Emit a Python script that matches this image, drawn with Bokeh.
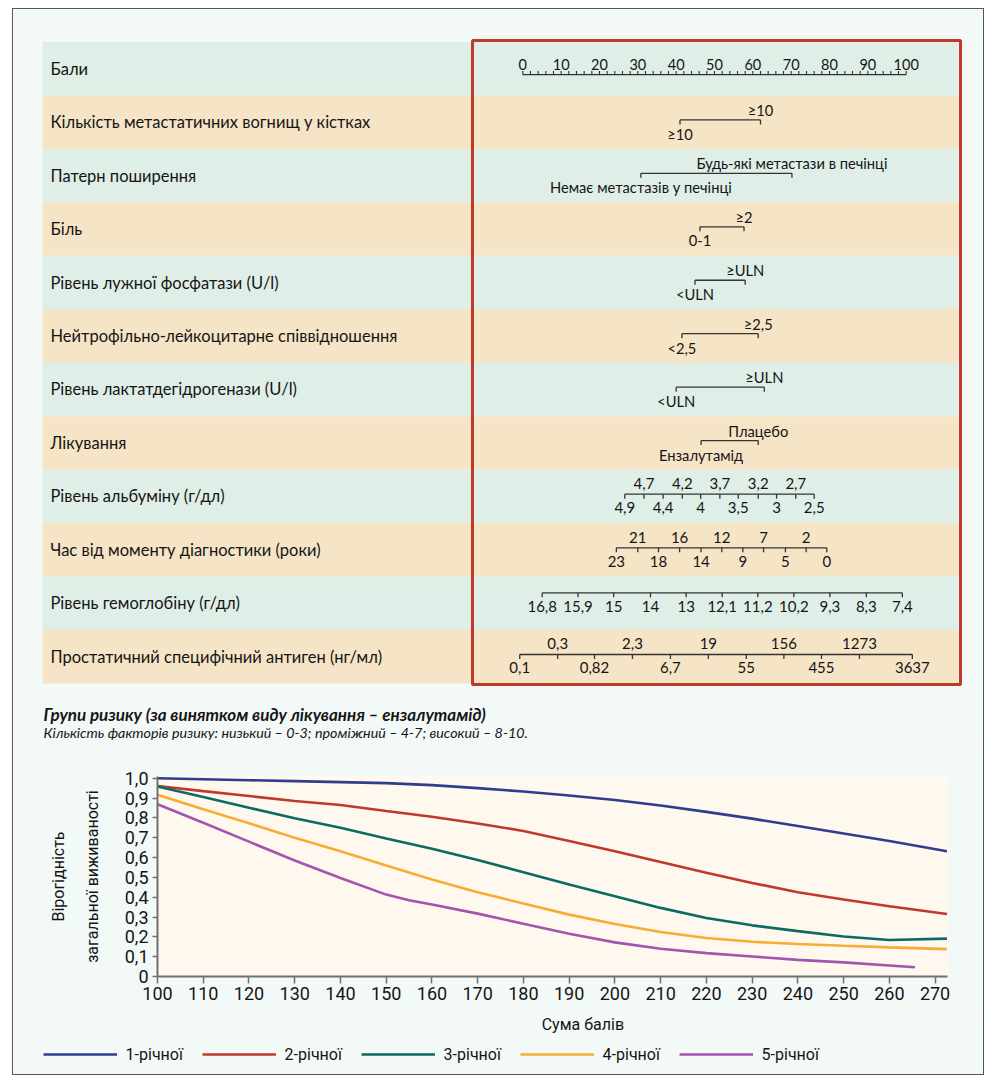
from bokeh.plotting import figure
from bokeh.models import Range1d, FixedTicker, Legend, LegendItem
from bokeh.embed import file_html
from bokeh.resources import INLINE
from bokeh.core.properties import value

# ---------------- data ----------------
row_labels = [
    "Бали",
    "Кількість метастатичних вогнищ у кістках",
    "Патерн поширення",
    "Біль",
    "Рівень лужної фосфатази (U/l)",
    "Нейтрофільно-лейкоцитарне співвідношення",
    "Рівень лактатдегідрогенази (U/l)",
    "Лікування",
    "Рівень альбуміну (г/дл)",
    "Час від моменту діагностики (роки)",
    "Рівень гемоглобіну (г/дл)",
    "Простатичний специфічний антиген (нг/мл)",
]
points_ticks = [0, 10, 20, 30, 40, 50, 60, 70, 80, 90, 100]
points_minor = list(range(0, 101, 2))

# binary factors: (low label, high label), (low points, high points)
bone_labels = ["≥10", "≥10"]
bone_pts = [41.0, 62.0]
pattern_labels = ["Немає метастазів у печінці", "Будь-які метастази в печінці"]
pattern_pts = [30.8, 70.2]
pain_labels = ["0-1", "≥2"]
pain_pts = [46.2, 57.7]
alp_labels = ["<ULN", "≥ULN"]
alp_pts = [44.9, 58.0]
nlr_labels = ["<2,5", "≥2,5"]
nlr_pts = [41.5, 61.4]
ldh_labels = ["<ULN", "≥ULN"]
ldh_pts = [40.0, 63.0]
treat_labels = ["Ензалутамід", "Плацебо"]
treat_pts = [46.5, 61.4]

albumin_labels = ["4,9", "4,7", "4,4", "4,2", "4", "3,7", "3,5", "3,2", "3", "2,7", "2,5"]
albumin_pts = [26.6, 31.6, 36.6, 41.6, 46.4, 51.4, 56.2, 61.4, 66.2, 71.2, 76.0]
time_labels = ["23", "21", "18", "16", "14", "12", "9", "7", "5", "2", "0"]
time_pts = [24.4, 30.0, 35.4, 40.9, 46.5, 51.9, 57.4, 62.8, 68.5, 73.9, 79.3]
hgb_labels = ["16,8", "15,9", "15", "14", "13", "12,1", "11,2", "10,2", "9,3", "8,3", "7,4"]
hgb_pts = [5.06, 14.4, 23.7, 33.3, 42.6, 52.0, 61.3, 70.7, 80.1, 89.6, 99.0]
psa_labels = ["0,1", "0,3", "0,82", "2,3", "6,7", "19", "55", "156", "455", "1273", "3637"]
psa_pts = [-0.8, 9.1, 18.7, 28.6, 38.5, 48.4, 58.3, 68.1, 77.9, 87.8, 101.6]

subtitle_1 = "Групи ризику (за винятком виду лікування – ензалутамід)"
subtitle_2 = "Кількість факторів ризику: низький – 0-3; проміжний – 4-7; високий – 8-10."

# survival curves
score = [100, 110, 120, 130, 140, 150, 160, 170, 180, 190, 200, 210, 220, 230, 240, 250, 260, 272.6]
surv_1 = [1.0, 0.995, 0.99, 0.985, 0.98, 0.975, 0.965, 0.95, 0.933, 0.913, 0.89, 0.862, 0.83, 0.796, 0.759, 0.721, 0.683, 0.632]
surv_2 = [0.961, 0.935, 0.91, 0.885, 0.865, 0.835, 0.806, 0.772, 0.734, 0.683, 0.632, 0.577, 0.523, 0.472, 0.425, 0.388, 0.354, 0.315]
surv_3 = [0.958, 0.905, 0.851, 0.798, 0.750, 0.696, 0.644, 0.587, 0.526, 0.464, 0.405, 0.346, 0.295, 0.258, 0.229, 0.202, 0.184, 0.191]
surv_4 = [0.916, 0.844, 0.773, 0.700, 0.632, 0.560, 0.489, 0.425, 0.368, 0.312, 0.265, 0.224, 0.194, 0.175, 0.164, 0.155, 0.147, 0.138]
score_5 = [100, 110, 120, 130, 140, 150, 155, 160, 170, 180, 190, 200, 210, 220, 230, 240, 250, 265.6]
surv_5 = [0.869, 0.775, 0.680, 0.585, 0.497, 0.413, 0.385, 0.363, 0.317, 0.266, 0.216, 0.172, 0.140, 0.118, 0.101, 0.084, 0.071, 0.047]
series_names = ["1-річної", "2-річної", "3-річної", "4-річної", "5-річної"]
x_ticks = list(range(100, 271, 10))
y_ticks = [0.0, 0.1, 0.2, 0.3, 0.4, 0.5, 0.6, 0.7, 0.8, 0.9, 1.0]
y_tick_labels = ["0", "0,1", "0,2", "0,3", "0,4", "0,5", "0,6", "0,7", "0,8", "0,9", "1,0"]
x_title = "Сума балів"
y_title = "Вірогідність\nзагальної виживаності"

# ---------------- styles ----------------
BG = "#f3f9f7"
MINT = "#dfeee7"
PEACH = "#f5e4c6"
RED_BOX = "#c0392b"
INK = "#151515"
LINE_INK = "#333333"
FONT = "Lato"
CHART_FONT = "Roboto"
COLORS = ["#2e3d8f", "#c0392b", "#0b6b63", "#f7ad33", "#a255ad"]
FRAME = "1px solid #555555"

OX, OY = 13, 9          # page position of the canvases
W = 972
PX0 = 522.3             # page pixel of 0 points
PXS = 3.834             # pixels per point


def X(px):
    return (px - PX0) / PXS


ROW_TOP0 = 41.5
ROW_H = 53.45
row_tops = [ROW_TOP0 + ROW_H * i for i in range(12)]
row_bottoms = [t + ROW_H for t in row_tops]
row_centers = [t + ROW_H / 2 for t in row_tops]
row_colors = [MINT if i % 2 == 0 else PEACH for i in range(12)]

# ---------------- nomogram figure ----------------
P1_BOTTOM = 748
p1 = figure(width=W, height=P1_BOTTOM - OY, x_range=Range1d(X(OX), X(OX + W)),
            y_range=Range1d(P1_BOTTOM, OY),
            toolbar_location=None, output_backend="svg", min_border=0)
p1.axis.visible = False
p1.grid.visible = False
p1.outline_line_color = None
p1.background_fill_color = BG
p1.border_fill_color = BG
p1.margin = (OY - 1, 0, 0, OX - 1)
p1.styles = {"border-top": FRAME, "border-left": FRAME, "border-right": FRAME}

p1.quad(left=X(42), right=X(958), top=row_tops, bottom=row_bottoms,
        fill_color=row_colors, line_color=None)
p1.text(x=X(50), y=row_centers, text=row_labels, text_baseline="middle",
        text_font=value(FONT), text_font_size="16.5px", text_color=INK)


def txt(xs, ys, labels, size="14px"):
    p1.text(x=xs, y=ys, text=labels, text_align="center", text_baseline="middle",
            text_font=value(FONT), text_font_size=size, text_color=INK)


# points axis
yl = row_centers[0] + 5.8
p1.segment(x0=[points_minor[0]], x1=[points_minor[-1]], y0=[yl], y1=[yl], line_color=LINE_INK, line_width=1.3)
p1.segment(x0=points_minor, x1=points_minor, y0=[yl] * len(points_minor), y1=[yl - 3.5] * len(points_minor),
           line_color=LINE_INK, line_width=1.1)
txt(points_ticks, [yl - 10.5] * len(points_ticks), [str(t) for t in points_ticks], "14.5px")


def scale_row(i, pts, labels, line_off, up_off, low_off, alternate=True):
    c = row_centers[i]
    ly = c + line_off
    p1.segment(x0=[pts[0]], x1=[pts[-1]], y0=[ly], y1=[ly], line_color=LINE_INK, line_width=1.3)
    p1.segment(x0=pts, x1=pts, y0=[ly] * len(pts), y1=[ly + 4.5] * len(pts), line_color=LINE_INK, line_width=1.3)
    if alternate:
        low_idx = list(range(0, len(pts), 2))
        up_idx = list(range(1, len(pts), 2))
    else:
        low_idx = list(range(len(pts)))
        up_idx = []
    size = "14.7px" if len(pts) == 2 else "15px"
    txt([pts[k] for k in low_idx], [c + low_off] * len(low_idx), [labels[k] for k in low_idx], size)
    if up_idx:
        txt([pts[k] for k in up_idx], [c + up_off] * len(up_idx), [labels[k] for k in up_idx], size)


binary = [(bone_pts, bone_labels), (pattern_pts, pattern_labels), (pain_pts, pain_labels),
          (alp_pts, alp_labels), (nlr_pts, nlr_labels), (ldh_pts, ldh_labels), (treat_pts, treat_labels)]
for k, (pts, labels) in enumerate(binary):
    scale_row(k + 1, pts, labels, -2.3, -12.3, 11.7)

scale_row(8, albumin_pts, albumin_labels, -2.2, -13.3, 11.6)
scale_row(9, time_pts, time_labels, -2.0, -12.0, 12.0)
scale_row(10, hgb_pts, hgb_labels, -10.4, 0, 3.2, alternate=False)
scale_row(11, psa_pts, psa_labels, -2.2, -12.8, 11.2)

# red frame around the scales
p1.quad(left=X(472), right=X(960), top=40, bottom=684, fill_color=None,
        line_color=RED_BOX, line_width=3)

# subtitles
p1.text(x=X(43), y=713.5, text=[subtitle_1], text_baseline="middle", text_font=value(FONT),
        text_font_size="17px", text_font_style="bold italic", text_color=INK)
p1.text(x=X(43), y=732, text=[subtitle_2], text_baseline="middle", text_font=value(FONT),
        text_font_size="14.3px", text_font_style="italic", text_color=INK)

# ---------------- survival chart ----------------
XS = 4.574                      # pixels per score unit
FRAME_L, FRAME_R = 157, 947     # page x of plot area
FRAME_T, FRAME_B = 777, 977     # page y of plot area
P2_BOTTOM = 1012
x_end = 100 + (FRAME_R - FRAME_L) / XS
p2 = figure(width=W, height=P2_BOTTOM - P1_BOTTOM, x_range=Range1d(100, x_end),
            y_range=Range1d(0, (FRAME_B - FRAME_T) / 198.3),
            toolbar_location=None, output_backend="svg",
            min_border_left=FRAME_L - OX, min_border_right=OX + W - FRAME_R,
            min_border_top=FRAME_T - P1_BOTTOM, min_border_bottom=P2_BOTTOM - FRAME_B)
p2.background_fill_color = "#fff8ee"
p2.border_fill_color = BG
p2.outline_line_color = None
p2.grid.visible = False
p2.margin = (0, 0, 0, OX - 1)
p2.styles = {"border-left": FRAME, "border-right": FRAME}

renderers = []
for xs, ys, col in [(score, surv_1, COLORS[0]), (score, surv_2, COLORS[1]), (score, surv_3, COLORS[2]),
                    (score, surv_4, COLORS[3]), (score_5, surv_5, COLORS[4])]:
    renderers.append(p2.line(xs, ys, line_color=col, line_width=2.6))

p2.xaxis.ticker = FixedTicker(ticks=x_ticks)
p2.yaxis.ticker = FixedTicker(ticks=y_ticks)
p2.yaxis.major_label_overrides = {t: l for t, l in zip(y_ticks, y_tick_labels)}
for ax in (p2.xaxis[0], p2.yaxis[0]):
    ax.axis_line_color = "#707070"
    ax.axis_line_width = 2
    ax.major_tick_line_color = "#707070"
    ax.major_tick_line_width = 1.5
    ax.major_tick_in = 0
    ax.minor_tick_line_color = None
    ax.major_label_text_font = CHART_FONT
    ax.major_label_text_font_size = "18px"
    ax.major_label_text_color = INK
p2.xaxis.major_tick_out = 7
p2.yaxis.major_tick_out = 5
p2.xaxis.major_label_standoff = 3
p2.yaxis.major_label_standoff = 4
p2.yaxis.axis_label = y_title
p2.yaxis.axis_label_text_font = CHART_FONT
p2.yaxis.axis_label_text_font_size = "16px"
p2.yaxis.axis_label_text_font_style = "normal"
p2.yaxis.axis_label_text_color = INK
p2.yaxis.axis_label_text_line_height = 1.75
p2.yaxis.axis_label_standoff = 20

# ---------------- x title + legend strip ----------------
P3_BOTTOM = 1076
p3 = figure(width=W, height=P3_BOTTOM - P2_BOTTOM,
            x_range=Range1d(100 - (FRAME_L - OX) / XS, x_end + (OX + W - FRAME_R) / XS),
            y_range=Range1d(P3_BOTTOM, P2_BOTTOM),
            toolbar_location=None, output_backend="svg", min_border=0)
p3.axis.visible = False
p3.grid.visible = False
p3.outline_line_color = None
p3.background_fill_color = BG
p3.border_fill_color = BG
p3.margin = (0, 0, 0, OX - 1)
p3.styles = {"border-left": FRAME, "border-right": FRAME, "border-bottom": FRAME}
p3.text(x=[193], y=[1025], text=[x_title], text_align="center", text_baseline="middle",
        text_font=value(CHART_FONT), text_font_size="16px", text_color=INK)

# legend keys (renderers carrying only the line style of each series)
nan = float("nan")
legend_renderers = [p3.line(x=[nan], y=[nan], line_color=c, line_width=2.6) for c in COLORS]
legend = Legend(items=[LegendItem(label=n, renderers=[r]) for n, r in zip(series_names, legend_renderers)],
                orientation="horizontal", location=(42.6 - OX, P3_BOTTOM - 1065), glyph_width=74, glyph_height=20,
                label_standoff=9, spacing=18, padding=0, margin=0, label_width=58,
                background_fill_alpha=0, border_line_color=None,
                label_text_font=CHART_FONT, label_text_font_size="16px", label_text_color=INK)
p3.add_layout(legend, "center")

with open("out.html", "w") as f:
    f.write(file_html([p1, p2, p3], INLINE))
